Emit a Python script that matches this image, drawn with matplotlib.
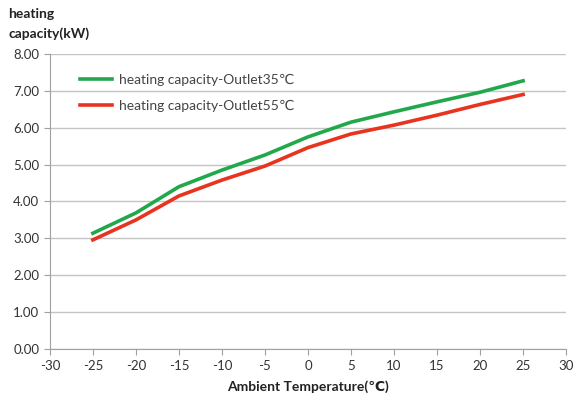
import matplotlib
matplotlib.use("Agg")
import matplotlib.pyplot as plt

plt.rcParams["font.family"] = ["Lato", "DejaVu Sans"]
plt.rcParams["axes.unicode_minus"] = False

# 데이터
temps = [-25, -20, -15, -10, -5, 0, 5, 10, 15, 20, 25]
cap_35 = [3.14, 3.69, 4.40, 4.85, 5.26, 5.75, 6.15, 6.43, 6.70, 6.96, 7.27]
cap_55 = [2.96, 3.50, 4.15, 4.58, 4.96, 5.46, 5.83, 6.07, 6.34, 6.63, 6.90]
x_ticks = list(range(-30, 31, 5))
y_ticks = [0, 1, 2, 3, 4, 5, 6, 7, 8]

GREEN = "#22a84a"
RED = "#e8331f"
GRID = "#c4c4c4"

fig = plt.figure(figsize=(5.73, 4.05), dpi=100)
ax = fig.add_axes([0.087, 0.138, 0.901, 0.729])

ax.plot(temps, cap_35, color=GREEN, lw=2.6, label="heating capacity-Outlet35℃", zorder=3)
ax.plot(temps, cap_55, color=RED, lw=2.6, label="heating capacity-Outlet55℃", zorder=3)

ax.set_xlim(-30, 30)
ax.set_ylim(0, 8)
ax.set_xticks(x_ticks)
ax.set_yticks(y_ticks)
ax.set_yticklabels([f"{v:.2f}" for v in y_ticks])
ax.yaxis.grid(True, color=GRID, lw=1.0)
ax.set_axisbelow(True)

for s in ("top", "right"):
    ax.spines[s].set_visible(False)
ax.spines["left"].set_color("#a0a0a0")
ax.spines["bottom"].set_color("#a0a0a0")
ax.tick_params(axis="both", colors="#a0a0a0", labelcolor="#333333",
               labelsize=9.5, length=4, direction="out")

ax.set_xlabel("Ambient Temperature(℃)", fontsize=10, weight="bold", color="#222", labelpad=6)
fig.text(0.015, 0.98, "heating\ncapacity(kW)", fontsize=10, weight="bold",
         color="#222", ha="left", va="top", linespacing=1.7)

ax.legend(loc="upper left", bbox_to_anchor=(0.035, 0.975), frameon=False,
          fontsize=10, handlelength=2.3, handletextpad=0.5, labelspacing=1.0,
          labelcolor="#444")

fig.savefig("out.png", dpi=100, facecolor="white")
